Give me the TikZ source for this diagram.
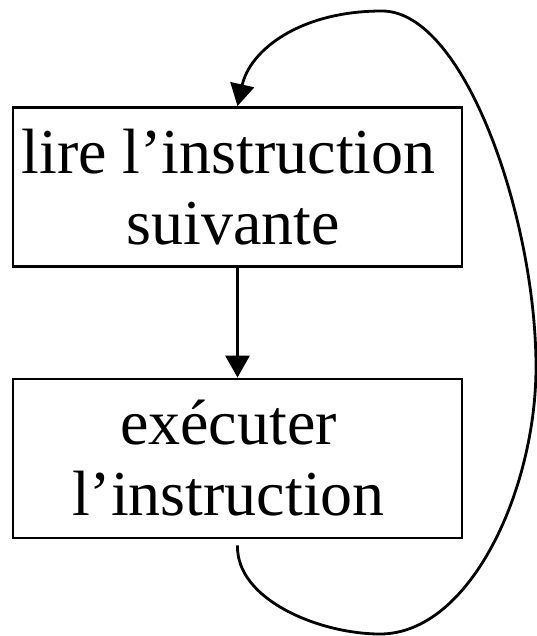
\documentclass[tikz,border=0pt]{standalone}
\usepackage{fontspec}
\setmainfont{Liberation Serif}
\usetikzlibrary{arrows.meta}
\tikzset{boite/.style={draw,line width=2.8pt,minimum width=449pt,minimum height=159pt,
  inner sep=0pt,align=center,font=\fontsize{64}{71}\selectfont},
  fleche/.style={line width=2.8pt,-{Triangle[length=22pt,width=24pt]}}}
\begin{document}
\begin{tikzpicture}[x=1pt,y=-1pt]
\useasboundingbox (0,0) rectangle (536,636);
\node[boite] (lire) at (237.5,187) {lire l'instruction\hspace*{18pt}\\ suivante\hspace*{9pt}};
\node[boite] (exec) at (237.5,458.5) {exécuter\hspace*{18pt}\\ l'instruction\hspace*{18pt}};
\draw[fleche] (lire) -- (exec);
% boucle de retour
\draw[fleche] ([yshift=-6pt]exec.south) .. controls (236,600) and (320,634) .. (380,634)
  .. controls (470,634) and (536,490) .. (536,367)
  .. controls (536,220) and (465,11) .. (382,11)
  .. controls (300,11) and (250,50) .. (lire.north);
\end{tikzpicture}
\end{document}
